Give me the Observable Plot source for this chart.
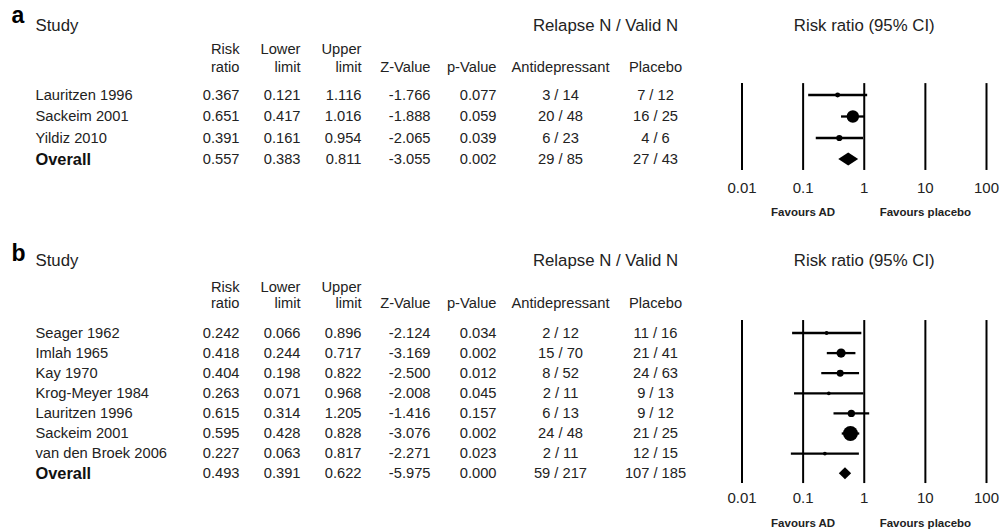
<!DOCTYPE html>
<html>
<head>
<meta charset="utf-8">
<script src="https://cdn.jsdelivr.net/npm/d3@7"></script>
<script src="https://cdn.jsdelivr.net/npm/@observablehq/plot@0.6"></script>
<style>
  html, body { margin: 0; padding: 0; background: #fff; }
  #chart { position: relative; width: 1001px; height: 530px; background: #fff; }
  .panel { position: absolute; left: 0; width: 1001px; }
  .panel > svg { position: absolute; top: 0; }
</style>
</head>
<body>
<div id="chart"></div>
<script>
// ---- Panel a ----
const studiesA = ["Lauritzen 1996", "Sackeim 2001", "Yildiz 2010", "Overall"];
const riskRatioA = [0.367, 0.651, 0.391, 0.557];
const lowerA = [0.121, 0.417, 0.161, 0.383];
const upperA = [1.116, 1.016, 0.954, 0.811];
const zValueA = [-1.766, -1.888, -2.065, -3.055];
const pValueA = [0.077, 0.059, 0.039, 0.002];
const adRelapseA = [3, 20, 6, 29];
const adValidA = [14, 48, 23, 85];
const placeboRelapseA = [7, 16, 4, 27];
const placeboValidA = [12, 25, 6, 43];

// ---- Panel b ----
const studiesB = ["Seager 1962", "Imlah 1965", "Kay 1970", "Krog-Meyer 1984", "Lauritzen 1996", "Sackeim 2001", "van den Broek 2006", "Overall"];
const riskRatioB = [0.242, 0.418, 0.404, 0.263, 0.615, 0.595, 0.227, 0.493];
const lowerB = [0.066, 0.244, 0.198, 0.071, 0.314, 0.428, 0.063, 0.391];
const upperB = [0.896, 0.717, 0.822, 0.968, 1.205, 0.828, 0.817, 0.622];
const zValueB = [-2.124, -3.169, -2.500, -2.008, -1.416, -3.076, -2.271, -5.975];
const pValueB = [0.034, 0.002, 0.012, 0.045, 0.157, 0.002, 0.023, 0.000];
const adRelapseB = [2, 15, 8, 2, 6, 24, 2, 59];
const adValidB = [12, 70, 52, 11, 13, 48, 11, 217];
const placeboRelapseB = [11, 21, 24, 9, 9, 21, 12, 107];
const placeboValidB = [16, 41, 63, 13, 12, 25, 15, 185];

// ---- Axis and header text ----
const tickValues = [0.01, 0.1, 1, 10, 100];
const tickLabels = ["0.01", "0.1", "1", "10", "100"];
const favoursAt = [0.1, 10];
const favoursLabels = ["Favours AD", "Favours placebo"];
const headerTop = ["Risk", "Lower", "Upper"];
const headerBottom = ["ratio", "limit", "limit", "Z-Value", "p-Value", "Antidepressant", "Placebo"];

// ---- Layout ----
const FONT = "'Liberation Sans', Arial, Helvetica, sans-serif";
const INK = "#222";
const TABLE_WIDTH = 700;
const FOREST_WIDTH = 301;
// x positions of the table columns (pixels) and their text anchors
const colX = {letter: 11, study: 35, relapse: 605};
const valueCols = [
  {x: 239, anchor: "end"},    // risk ratio
  {x: 300, anchor: "end"},    // lower limit
  {x: 361, anchor: "end"},    // upper limit
  {x: 430, anchor: "end"},    // Z
  {x: 496, anchor: "end"},    // p
  {x: 560, anchor: "middle"}, // antidepressant
  {x: 655, anchor: "middle"}  // placebo
];
// vertical positions in row units (row 0 = first study)
const panels = [
  {
    letter: "a", top: 0, height: 235, rowFirst: 94.5, rowLast: 159, rMax: 6.2,
    pos: {letter: -3.70, title: -3.23, head1: -2.12, head2: -1.28, lineTop: -0.53, lineBottom: 3.51, ticks: 4.35, favours: 5.47},
    study: studiesA, rr: riskRatioA, lower: lowerA, upper: upperA, z: zValueA, p: pValueA,
    adR: adRelapseA, adN: adValidA, plR: placeboRelapseA, plN: placeboValidA
  },
  {
    letter: "b", top: 235, height: 295, rowFirst: 97.5, rowLast: 238.2, rMax: 7.5,
    pos: {letter: -3.96, title: -3.61, head1: -2.26, head2: -1.47, lineTop: -0.62, lineBottom: 7.49, ticks: 8.23, favours: 9.48},
    study: studiesB, rr: riskRatioB, lower: lowerB, upper: upperB, z: zValueB, p: pValueB,
    adR: adRelapseB, adN: adValidB, plR: placeboRelapseB, plN: placeboValidB
  }
];

const fmt3 = (v) => v.toFixed(3);

function buildRows(p) {
  return p.study.map((name, i) => ({
    i,
    study: name,
    pooled: i === p.study.length - 1,
    rr: p.rr[i], lower: p.lower[i], upper: p.upper[i], z: p.z[i], p: p.p[i],
    ad: `${p.adR[i]} / ${p.adN[i]}`,
    pl: `${p.plR[i]} / ${p.plN[i]}`,
    // inverse-variance weight from the 95% CI on the log scale
    weight: 1 / Math.pow((Math.log(p.upper[i]) - Math.log(p.lower[i])) / (2 * 1.959964), 2)
  }));
}

function tablePlot(p, rows) {
  const Y = p.pos;
  const studies = rows.filter(d => !d.pooled);
  const pooled = rows.filter(d => d.pooled);
  const cellText = [d => fmt3(d.rr), d => fmt3(d.lower), d => fmt3(d.upper), d => fmt3(d.z), d => fmt3(d.p), d => d.ad, d => d.pl];
  const marks = [
    Plot.text([p.letter], {x: colX.letter, y: Y.letter, text: d => d, textAnchor: "start", fontSize: 23, fontWeight: "bold", fill: "#000"}),
    Plot.text(["Study"], {x: colX.study, y: Y.title, text: d => d, textAnchor: "start", fontSize: 16.8, fill: INK}),
    Plot.text(["Relapse N / Valid N"], {x: colX.relapse, y: Y.title, text: d => d, fontSize: 16.8, fill: INK}),
    Plot.text(headerTop, {x: (d, i) => valueCols[i].x, y: Y.head1, text: d => d, textAnchor: "end", fontSize: 14.7, fill: INK}),
    Plot.text(studies, {x: colX.study, y: "i", text: "study", textAnchor: "start", fontSize: 14.7, fill: INK}),
    Plot.text(pooled, {x: colX.study, y: "i", text: "study", textAnchor: "start", fontSize: 16.4, fontWeight: "bold", fill: "#111"})
  ];
  valueCols.forEach((c, k) => {
    marks.push(Plot.text([headerBottom[k]], {x: c.x, y: Y.head2, text: d => d, textAnchor: c.anchor, fontSize: 14.7, fill: INK}));
    marks.push(Plot.text(rows, {x: c.x, y: "i", text: cellText[k], textAnchor: c.anchor, fontSize: 14.7, fill: INK}));
  });
  return Plot.plot({
    width: TABLE_WIDTH, height: p.height, margin: 0,
    x: {domain: [0, TABLE_WIDTH], range: [0, TABLE_WIDTH]},
    y: {domain: [0, rows.length - 1], range: [p.rowFirst, p.rowLast]},
    axis: null,
    style: {fontFamily: FONT, background: "transparent", overflow: "visible"},
    marks
  });
}

function forestPlot(p, rows) {
  const Y = p.pos;
  const studies = rows.filter(d => !d.pooled);
  const pooled = rows[rows.length - 1];
  const half = 0.3;
  const diamond = [
    {x: pooled.lower, y1: pooled.i, y2: pooled.i},
    {x: pooled.rr, y1: pooled.i - half, y2: pooled.i + half},
    {x: pooled.upper, y1: pooled.i, y2: pooled.i}
  ];
  return Plot.plot({
    width: FOREST_WIDTH, height: p.height, margin: 0,
    x: {type: "log", domain: [0.01, 100], range: [41.5, 286]},
    y: {domain: [0, rows.length - 1], range: [p.rowFirst, p.rowLast]},
    r: {range: [0, p.rMax]},
    axis: null,
    style: {fontFamily: FONT, background: "transparent", overflow: "visible"},
    marks: [
      Plot.text(["Risk ratio (95% CI)"], {x: 1, y: Y.title, text: d => d, fontSize: 16.8, fill: INK}),
      Plot.ruleX(tickValues, {x: d => d, y1: Y.lineTop, y2: Y.lineBottom, stroke: "#000", strokeWidth: 2}),
      Plot.link(studies, {x1: "lower", x2: "upper", y1: "i", y2: "i", stroke: "#000", strokeWidth: 2.3}),
      Plot.dot(studies, {x: "rr", y: "i", r: "weight", fill: "#000", stroke: "none"}),
      Plot.areaY(diamond, {x: "x", y1: "y1", y2: "y2", fill: "#000"}),
      Plot.text(tickValues, {x: d => d, y: Y.ticks, text: (d, i) => tickLabels[i], fontSize: 15, fill: INK}),
      Plot.text(favoursAt, {x: d => d, y: Y.favours, text: (d, i) => favoursLabels[i], fontSize: 11.5, fontWeight: "bold", fill: INK})
    ]
  });
}

const chart = document.getElementById("chart");
for (const p of panels) {
  const rows = buildRows(p);
  const panel = document.createElement("div");
  panel.className = "panel";
  panel.style.top = p.top + "px";
  panel.style.height = p.height + "px";
  const table = tablePlot(p, rows);
  table.style.left = "0px";
  const forest = forestPlot(p, rows);
  forest.style.left = TABLE_WIDTH + "px";
  panel.append(table, forest);
  chart.append(panel);
}
</script>
</body>
</html>
